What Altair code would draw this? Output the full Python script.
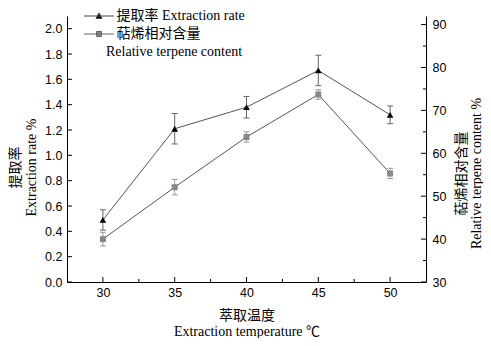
import json
import altair as alt
import pandas as pd

# ---------------- data ----------------
temps = [30, 35, 40, 45, 50]
rate = [0.49, 1.21, 1.38, 1.67, 1.32]
rate_err = [0.08, 0.12, 0.085, 0.12, 0.07]
terp = [40.0, 52.1, 63.8, 73.7, 55.3]
terp_err = [1.6, 1.8, 1.2, 1.1, 1.2]

series_names = ["提取率 Extraction rate", "萜烯相对含量"]
terp_line2 = "Relative terpene content"

x_ticks = [30, 35, 40, 45, 50]
x_minor = [32.5, 37.5, 42.5, 47.5]
left_ticks = [0.0, 0.2, 0.4, 0.6, 0.8, 1.0, 1.2, 1.4, 1.6, 1.8, 2.0]
right_ticks = [30, 40, 50, 60, 70, 80, 90]
right_minor = [35, 45, 55, 65, 75, 85]

# ---------------- styling ----------------
W, H = 359, 266
serif = "Liberation Serif, Noto Sans CJK SC, serif"
sans = "Liberation Sans, Arial, sans-serif"

xs = alt.Scale(domain=[27.5, 52.5], nice=False, zero=False)
YL = [0, 2.1]
YR = [30, 92]


def yl():
    return alt.Scale(domain=YL, nice=False, zero=False)


def yr():
    return alt.Scale(domain=YR, nice=False, zero=False)


df_rate = pd.DataFrame({
    "t": temps, "v": rate,
    "lo": [v - e for v, e in zip(rate, rate_err)],
    "hi": [v + e for v, e in zip(rate, rate_err)],
})
df_terp = pd.DataFrame({
    "t": temps, "v": terp,
    "lo": [v - e for v, e in zip(terp, terp_err)],
    "hi": [v + e for v, e in zip(terp, terp_err)],
})

common_axis = dict(ticks=False, grid=False, domainColor="black", domainWidth=1,
                   labelFont=sans, labelFontSize=12.5, labelColor="black",
                   titleFont=serif, titleFontSize=14, titleFontWeight="normal", titleColor="black",
                   titleBaseline="middle", titleAlign="center")

x_axis = alt.Axis(values=x_ticks, format="d", labelPadding=4, orient="bottom",
                  title=["萃取温度", "Extraction temperature ℃"],
                  titleX=W / 2, titleY=33, titleLineHeight=16, titleAngle=0, **common_axis)
left_axis = alt.Axis(values=left_ticks, format=".1f", labelPadding=5, orient="left",
                     title=["提取率", "Extraction rate %"],
                     titleX=-52, titleY=151, titleLineHeight=16, titleAngle=270, **common_axis)
right_axis = alt.Axis(values=right_ticks, format="d", labelPadding=6, orient="right",
                      title=["萜烯相对含量", "Relative terpene content %"],
                      titleX=35, titleY=157, titleLineHeight=15, titleAngle=270, **common_axis)


def X(field):
    return alt.X(field, type="quantitative", scale=xs, axis=x_axis)


# ---------------- extraction rate (left scale) ----------------
rate_line = alt.Chart(df_rate).mark_line(color="#555", strokeWidth=1).encode(
    x=X("t"), y=alt.Y("v:Q", scale=yl(), axis=left_axis))
rate_bar = alt.Chart(df_rate).mark_rule(color="#666", strokeWidth=1).encode(
    x=X("t"), y=alt.Y("lo:Q", scale=yl(), axis=None), y2="hi:Q")
rate_cap_lo = alt.Chart(df_rate).mark_tick(orient="horizontal", size=6, thickness=1,
                                           color="#666", opacity=1).encode(
    x=X("t"), y=alt.Y("lo:Q", scale=yl(), axis=None))
rate_cap_hi = alt.Chart(df_rate).mark_tick(orient="horizontal", size=6, thickness=1,
                                           color="#666", opacity=1).encode(
    x=X("t"), y=alt.Y("hi:Q", scale=yl(), axis=None))
rate_pts = alt.Chart(df_rate).mark_point(shape="triangle-up", filled=True, color="black",
                                         size=45, opacity=1).encode(
    x=X("t"), y=alt.Y("v:Q", scale=yl(), axis=None))

# ---------------- terpene content (right scale) ----------------
terp_line = alt.Chart(df_terp).mark_line(color="#555", strokeWidth=1).encode(
    x=X("t"), y=alt.Y("v:Q", scale=yr(), axis=right_axis))
terp_bar = alt.Chart(df_terp).mark_rule(color="#999", strokeWidth=1).encode(
    x=X("t"), y=alt.Y("lo:Q", scale=yr(), axis=None), y2="hi:Q")
terp_cap_lo = alt.Chart(df_terp).mark_tick(orient="horizontal", size=6, thickness=1,
                                           color="#999", opacity=1).encode(
    x=X("t"), y=alt.Y("lo:Q", scale=yr(), axis=None))
terp_cap_hi = alt.Chart(df_terp).mark_tick(orient="horizontal", size=6, thickness=1,
                                           color="#999", opacity=1).encode(
    x=X("t"), y=alt.Y("hi:Q", scale=yr(), axis=None))
terp_pts = alt.Chart(df_terp).mark_point(shape="square", filled=True, color="#888",
                                         size=36, opacity=1).encode(
    x=X("t"), y=alt.Y("v:Q", scale=yr(), axis=None))

# ---------------- inward ticks ----------------
ltick = alt.Chart(pd.DataFrame({"val": left_ticks})).mark_rule(color="black", strokeWidth=1).encode(
    y=alt.Y("val:Q", scale=yl(), axis=None), x=alt.value(0), x2=alt.value(5))
rtick = alt.Chart(pd.DataFrame({"val": right_ticks})).mark_rule(color="black", strokeWidth=1).encode(
    y=alt.Y("val:Q", scale=yr(), axis=None), x=alt.value(W), x2=alt.value(W - 5))
rminor = alt.Chart(pd.DataFrame({"val": right_minor})).mark_rule(color="black", strokeWidth=1).encode(
    y=alt.Y("val:Q", scale=yr(), axis=None), x=alt.value(W), x2=alt.value(W - 3))
xtick = alt.Chart(pd.DataFrame({"val": x_ticks})).mark_rule(color="black", strokeWidth=1).encode(
    x=X("val"), y=alt.value(H), y2=alt.value(H - 5))
xminor = alt.Chart(pd.DataFrame({"val": x_minor})).mark_rule(color="black", strokeWidth=1).encode(
    x=X("val"), y=alt.value(H), y2=alt.value(H - 3))

# ---------------- legend (native, driven by a clipped point layer) ----------------
legend_entries = series_names + [terp_line2]
tri_path = "M-2.5,0H2.5M0,-0.5L0.5,0.4L-0.5,0.4Z"
sq_path = "M-2.5,0H2.5M-0.42,-0.42H0.42V0.42H-0.42Z"
blank_path = "M0,0Z"
pad = "\u200b" + "\u00a0" * 3
label_expr = ("datum.label == " + json.dumps(terp_line2) + " ? datum.label : "
              + json.dumps(pad, ensure_ascii=False) + " + datum.label")
legend = alt.Legend(orient="none", legendX=4, legendY=-7, title=None, padding=0,
                    symbolSize=144, symbolStrokeWidth=1, symbolOpacity=1, symbolOffset=21,
                    labelFont=serif, labelFontSize=14, labelColor="black", labelOffset=0,
                    labelLimit=400, rowPadding=4, labelExpr=label_expr)
df_leg = pd.DataFrame({"s": legend_entries, "t": [0, 0, 0], "v": [0, 0, 0]})
leg_layer = alt.Chart(df_leg).mark_point(filled=True, clip=True, opacity=1).encode(
    x=X("t"),
    y=alt.Y("v:Q", scale=yl(), axis=None),
    shape=alt.Shape("s:N", scale=alt.Scale(domain=legend_entries,
                                           range=[tri_path, sq_path, blank_path]),
                    legend=legend),
    fill=alt.Fill("s:N", scale=alt.Scale(domain=legend_entries,
                                         range=["black", "#888", "transparent"]),
                  legend=legend),
    stroke=alt.Stroke("s:N", scale=alt.Scale(domain=legend_entries,
                                             range=["#444", "#666", "transparent"]),
                      legend=legend),
)

chart = (
    alt.layer(rate_line, terp_line, rate_bar, rate_cap_lo, rate_cap_hi,
              terp_bar, terp_cap_lo, terp_cap_hi, rate_pts, terp_pts,
              ltick, rtick, rminor, xtick, xminor, leg_layer)
    .resolve_scale(y="independent")
    .properties(
        width=W, height=H,
        autosize=alt.AutoSizeParams(type="none"),
        padding={"left": 59, "top": 8, "right": 57, "bottom": 56},
        background="white",
    )
    .configure_view(stroke=None)
)

chart.save("out.html", embed_options={"renderer": "svg", "actions": False})
